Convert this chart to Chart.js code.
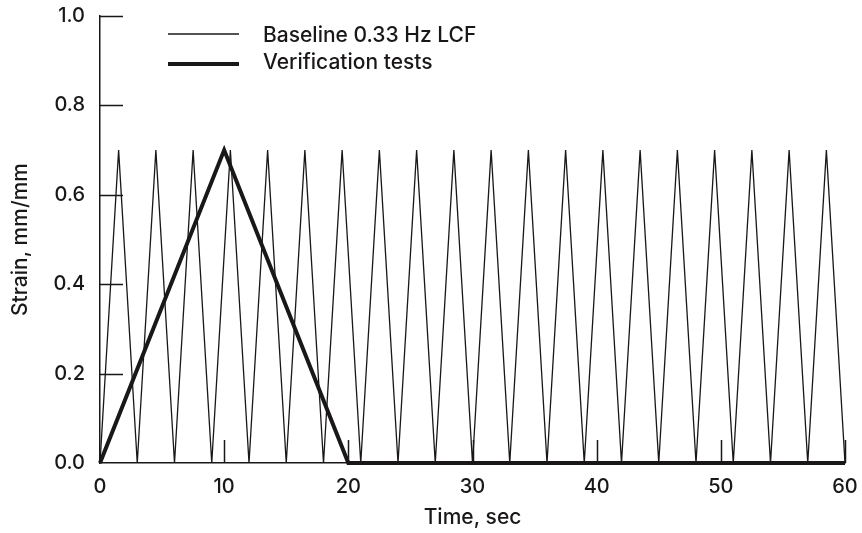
<!DOCTYPE html>
<html>
<head>
<meta charset="utf-8">
<script src="https://cdn.jsdelivr.net/npm/chart.js@4.4.1/dist/chart.umd.min.js"></script>
<style>
  html, body { margin: 0; padding: 0; background: #ffffff; }
  #wrap { width: 862px; height: 533px; }
</style>
</head>
<body>
<div id="wrap"><canvas id="c" width="862" height="533"></canvas></div>
<script>
// Baseline 0.33 Hz LCF: triangle wave (time in s, strain in mm/mm)
const baselineTime = [0, 1.5, 3, 4.5, 6, 7.5, 9, 10.5, 12, 13.5, 15, 16.5, 18, 19.5, 21, 22.5, 24, 25.5, 27, 28.5, 30,
                      31.5, 33, 34.5, 36, 37.5, 39, 40.5, 42, 43.5, 45, 46.5, 48, 49.5, 51, 52.5, 54, 55.5, 57, 58.5, 60];
const baselineStrain = [0, 0.7, 0, 0.7, 0, 0.7, 0, 0.7, 0, 0.7, 0, 0.7, 0, 0.7, 0, 0.7, 0, 0.7, 0, 0.7, 0,
                        0.7, 0, 0.7, 0, 0.7, 0, 0.7, 0, 0.7, 0, 0.7, 0, 0.7, 0, 0.7, 0, 0.7, 0, 0.7, 0];
// Verification tests
const verifTime = [0, 10, 20, 60];
const verifStrain = [0, 0.7, 0, 0];
// Axis ticks
const xTicks = [0, 10, 20, 30, 40, 50, 60];
const yTicks = [0.0, 0.2, 0.4, 0.6, 0.8, 1.0];
const seriesNames = ['Baseline 0.33 Hz LCF', 'Verification tests'];

const INK = '#1a1718';
const FONT = 'Inter';
const WEIGHT = 500;
const SIZE = 20;
const TSIZE = 21;

const toPoints = (xs, ys) => xs.map((x, i) => ({ x: x, y: ys[i] }));

// inward tick marks + legend
const decor = {
  id: 'decor',
  afterDraw(chart) {
    const ctx = chart.ctx;
    const xs = chart.scales.x, ys = chart.scales.y;
    const a = chart.chartArea;
    ctx.save();
    ctx.strokeStyle = INK;
    ctx.lineWidth = 1.5;
    ctx.beginPath();
    yTicks.forEach(v => {
      if (v === 0) return;
      const py = Math.round(ys.getPixelForValue(v)) + 0.5;
      ctx.moveTo(a.left, py); ctx.lineTo(a.left + 23, py);
    });
    xTicks.forEach(v => {
      if (v === 0) return;
      const px = Math.round(xs.getPixelForValue(v)) + 0.5;
      ctx.moveTo(px, a.bottom); ctx.lineTo(px, a.bottom - 23);
    });
    ctx.stroke();

    // legend
    const ds = chart.data.datasets;
    const rows = [
      { ds: ds[1], y: 34, ty: 36 },
      { ds: ds[0], y: 64, ty: 63 }
    ];
    ctx.font = WEIGHT + ' ' + TSIZE + 'px "' + FONT + '"';
    ctx.textBaseline = 'middle';
    ctx.textAlign = 'left';
    rows.forEach(r => {
      ctx.strokeStyle = r.ds.borderColor;
      ctx.lineWidth = r.ds.borderWidth;
      ctx.beginPath();
      ctx.moveTo(168, r.y); ctx.lineTo(239, r.y);
      ctx.stroke();
      ctx.fillStyle = INK;
      ctx.fillText(r.ds.label, 263, r.ty);
    });
    ctx.restore();
  }
};

const tickFont = { family: FONT, size: SIZE, weight: WEIGHT };
const titleFont = { family: FONT, size: TSIZE, weight: WEIGHT };

new Chart(document.getElementById('c'), {
  type: 'line',
  data: {
    datasets: [
      {
        label: seriesNames[1],
        data: toPoints(verifTime, verifStrain),
        borderColor: INK,
        borderWidth: 4,
        borderJoinStyle: 'miter',
        pointRadius: 0,
        tension: 0,
        fill: false,
        clip: false
      },
      {
        label: seriesNames[0],
        data: toPoints(baselineTime, baselineStrain),
        borderColor: INK,
        borderWidth: 1.3,
        borderJoinStyle: 'miter',
        pointRadius: 0,
        tension: 0,
        fill: false,
        clip: false
      }
    ]
  },
  options: {
    responsive: false,
    devicePixelRatio: 1,
    animation: false,
    layout: { padding: { top: 16, right: 17, left: 0, bottom: 0 } },
    plugins: { legend: { display: false }, tooltip: { enabled: false } },
    scales: {
      x: {
        type: 'linear',
        min: 0, max: 60,
        afterBuildTicks: s => { s.ticks = xTicks.map(v => ({ value: v })); },
        afterFit: s => { s.height = 70; s.paddingLeft = 0; s.paddingRight = 0; },
        grid: { display: false, drawTicks: false },
        border: { display: true, color: INK, width: 1.5 },
        ticks: {
          color: INK, padding: 12, maxRotation: 0,
          font: tickFont,
          callback: v => String(v)
        },
        title: {
          display: true, text: 'Time, sec', color: INK,
          font: titleFont,
          padding: { top: 4, bottom: 3 }
        }
      },
      y: {
        type: 'linear',
        min: 0, max: 1,
        afterBuildTicks: s => { s.ticks = yTicks.map(v => ({ value: v })); },
        afterFit: s => { s.width = 100; s.paddingTop = 0; s.paddingBottom = 0; },
        grid: { display: false, drawTicks: false },
        border: { display: true, color: INK, width: 1.5 },
        ticks: {
          color: INK, padding: 15,
          font: tickFont,
          callback: v => Number(v).toFixed(1)
        },
        title: {
          display: true, text: 'Strain, mm/mm', color: INK,
          font: titleFont,
          padding: { top: 8, bottom: 4 }
        }
      }
    }
  },
  plugins: [decor]
});
</script>
</body>
</html>
